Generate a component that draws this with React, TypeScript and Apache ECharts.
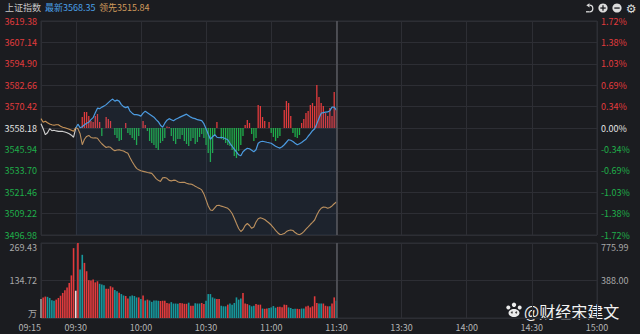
import React, { useEffect, useRef } from "react";
import * as echarts from "echarts";

// ---------- data ----------
const INDEX_NAME = "上证指数";
const PREV_CLOSE = 3558.18;
const LATEST = 3568.35;
const LEADING = 3515.84;

const priceTickLabels = ["3496.98", "3509.22", "3521.46", "3533.70", "3545.94", "3558.18", "3570.42", "3582.66", "3594.90", "3607.14", "3619.38"];
const pctTickLabels = ["-1.72%", "-1.38%", "-1.03%", "-0.69%", "-0.34%", "0.00%", "0.34%", "0.69%", "1.03%", "1.38%", "1.72%"];
const volLeftLabels = ["万", "134.72", "269.43"];
const volRightLabels = ["", "388.00", "775.99"];
const timeLabels = ["09:15", "09:30", "10:00", "10:30", "11:00", "11:30", "13:30", "14:00", "14:30", "15:00"];
const timeTickSlots = [0, 16, 46, 76, 106, 136, 166, 196, 226, 256];
const SLOT_COUNT = 257;
const OPEN_SLOT = 16;

const PRICE_MIN = 3496.98;
const PRICE_MAX = 3619.38;
const PRICE_STEP = 12.24;
const VOL_LEFT_MAX = 269.43;
const VOL_RIGHT_MAX = 775.99;
const FORCE_RANGE = 107;

// call-auction price (09:15 - 09:30)
const auctionPrice = [3560.65, 3557.78, 3554.34, 3555.48, 3557.78, 3556.63, 3556.92, 3556.52, 3556.23, 3556.34, 3556.23, 3555.88, 3555.48, 3554.91, 3554.05, 3552.90, 3558.18];

// index price from 09:30
const price = [
  3558.18, 3560.36, 3558.35, 3558.93, 3560.07, 3560.93, 3561.51, 3562.94, 3564.09, 3566.96,
  3569.54, 3569.25, 3570.12, 3570.69, 3571.55, 3572.70, 3573.84, 3574.71, 3573.56, 3574.13,
  3573.56, 3571.55, 3570.40, 3569.83, 3570.40, 3567.82, 3566.67, 3565.81, 3565.81, 3565.52,
  3564.95, 3566.67, 3567.82, 3566.96, 3566.10, 3565.24, 3564.38, 3562.94, 3561.79, 3559.79,
  3558.64, 3560.93, 3562.66, 3563.52, 3562.94, 3562.37, 3563.23, 3563.80, 3564.38, 3564.95,
  3565.52, 3566.10, 3565.24, 3564.38, 3563.80, 3563.52, 3562.94, 3562.66, 3562.37, 3560.65,
  3557.78, 3554.62, 3551.75, 3553.19, 3554.34, 3552.90, 3552.61, 3552.90, 3552.61, 3552.04,
  3551.47, 3549.46, 3547.74, 3546.02, 3544.58, 3542.86, 3542.29, 3544.58, 3545.73, 3546.59,
  3546.30, 3545.44, 3544.58, 3545.73, 3549.46, 3550.32, 3550.61, 3550.32, 3550.03, 3549.75,
  3549.46, 3548.60, 3547.74, 3547.16, 3546.70, 3547.45, 3548.60, 3550.03, 3551.47, 3551.18,
  3550.49, 3549.46, 3548.60, 3549.17, 3549.92, 3550.89, 3551.75, 3553.47, 3554.91, 3556.63,
  3557.78, 3560.65, 3563.80, 3566.67, 3566.96, 3567.25, 3567.36, 3568.11, 3570.12, 3570.12,
  3568.35,
];

// leading index from 09:15
const leading = [
  3563.52, 3561.51, 3562.08, 3561.22, 3560.48, 3560.07, 3559.79, 3560.07, 3560.07, 3559.21,
  3558.64, 3558.35, 3557.95, 3557.49, 3556.92, 3556.34, 3558.52, 3557.78, 3554.91, 3548.60,
  3551.75, 3553.36, 3553.93, 3552.79, 3552.44, 3552.61, 3552.33, 3550.61, 3549.17, 3548.02,
  3547.05, 3547.45, 3547.16, 3545.90, 3545.15, 3545.56, 3545.73, 3545.33, 3544.98, 3544.29,
  3543.72, 3541.14, 3538.84, 3536.83, 3535.11, 3534.25, 3533.68, 3533.39, 3533.10, 3532.70,
  3532.53, 3532.24, 3530.81, 3529.20, 3528.23, 3527.65, 3529.66, 3529.83, 3529.38, 3528.23,
  3527.94, 3528.34, 3528.23, 3527.48, 3526.97, 3527.08, 3527.19, 3526.56, 3526.22, 3526.10,
  3525.65, 3524.90, 3524.21, 3523.64, 3522.78, 3520.48, 3517.04, 3513.60, 3511.30, 3511.01,
  3512.45, 3513.88, 3514.00, 3513.48, 3513.14, 3512.74, 3512.22, 3511.01, 3509.29, 3506.54,
  3503.55, 3500.69, 3498.96, 3500.11, 3502.41, 3503.55, 3502.41, 3500.80, 3501.55, 3504.41,
  3506.25, 3506.88, 3506.42, 3505.85, 3504.82, 3503.84, 3502.69, 3501.26, 3499.65, 3498.28,
  3497.24, 3497.36, 3497.82, 3498.96, 3499.54, 3499.83, 3499.54, 3498.39, 3497.53, 3497.13,
  3497.82, 3498.96, 3500.40, 3501.66, 3502.98, 3504.24, 3505.56, 3508.43, 3510.73, 3512.28,
  3513.02, 3512.85, 3512.28, 3512.74, 3513.60, 3514.86, 3515.84,
];

// buy/sell force bars from 09:30 (positive = red, negative = green)
const force = [
  0, 0, 0, 11, 16, 16, 12, 7, 6, 12,
  14, 6, -8, 0, 11, 9, 7, 0, -7, -10,
  -13, -12, 0, 5, -5, -7, -10, -12, -17, -8,
  0, 7, 3, -3, -13, -15, -17, -20, -22, -15,
  -13, -10, 1.5, 1, -8, -13, -16, -11, -11, -7,
  -13, -16, -18, -13, -10, -16, -14, -9, -6, -10,
  -17, -25, -34, -25, -8, 6, 0, -11, -12, -15,
  -17, -18, -22, -28, -30, -23, -17, -8, 3, 8,
  5, -6, -13, -10, 23, 22, 11, 7, 0, 6,
  -5, -9, -13, -10, -8, 0, 18, 27, 25, 12,
  -5, -9, -10, -7, 5, 9, 15, 17, 23, 25,
  22, 43, 31, 25, 22, 15, 12, 20, 12, 36,
  18,
];

// volume (万) from 09:15 and direction: u up, d down, n flat, h highlighted
const volume = [
  68, 74, 77, 76, 72, 64, 62, 66, 72, 80,
  90, 100, 110, 126, 153, 251, 98, 269, 174, 227,
  198, 168, 136, 135, 138, 128, 132, 123, 120, 118,
  105, 105, 114, 110, 101, 96, 91, 86, 81, 79,
  70, 78, 81, 79, 74, 74, 68, 81, 63, 66,
  63, 58, 63, 63, 62, 61, 62, 62, 54, 52,
  57, 52, 52, 51, 54, 53, 51, 51, 55, 44,
  44, 53, 52, 52, 54, 50, 62, 86, 86, 74,
  70, 68, 68, 44, 42, 42, 48, 52, 48, 54,
  74, 66, 70, 90, 52, 50, 46, 42, 44, 50,
  48, 48, 34, 33, 34, 36, 38, 43, 37, 40,
  40, 39, 48, 47, 38, 36, 32, 33, 33, 32,
  34, 34, 41, 44, 38, 42, 78, 54, 52, 52,
  52, 44, 42, 42, 52, 74, 62,
];
const volumeDir = [
  "n", "u", "u", "d", "d", "d", "d", "u", "u", "u",
  "u", "u", "u", "u", "u", "u", "h", "u", "d", "d",
  "u", "u", "u", "u", "u", "u", "u", "d", "d", "d",
  "u", "u", "u", "u", "d", "d", "u", "d", "d", "u",
  "u", "d", "d", "d", "d", "u", "d", "u", "d", "u",
  "d", "d", "d", "d", "d", "u", "u", "u", "u", "u",
  "d", "d", "d", "d", "u", "u", "u", "u", "d", "u",
  "u", "d", "d", "d", "u", "u", "d", "d", "d", "d",
  "d", "u", "u", "d", "d", "d", "u", "d", "d", "d",
  "d", "d", "d", "u", "u", "u", "d", "d", "d", "u",
  "u", "u", "d", "u", "u", "d", "d", "d", "d", "u",
  "u", "u", "u", "u", "d", "d", "d", "d", "u", "u",
  "d", "d", "u", "u", "u", "u", "u", "u", "d", "d",
  "u", "u", "u", "d", "u", "u", "d",
];

// ---------- styles ----------
const BG = "#1b1c20";
const GRID = "#2d2e34";
const RED = "#e23b3d";
const GREEN = "#1fae4a";
const TEAL = "#17979c";
const BLUE = "#4c9be0";
const ORANGE = "#c99457";
const FONT = '"Noto Sans CJK SC", "Noto Sans", sans-serif';

const slots = Array.from({ length: SLOT_COUNT }, (_, i) => String(i));
const isTimeTick = (idx: number) => timeTickSlots.indexOf(idx) >= 0;
const pad = (n: number) => Array.from({ length: n }, () => null as number | null);

const volColor: Record<string, string> = { u: RED, d: TEAL, n: "#9a9a9a", h: "#f2d9d9" };

export default function App() {
  const ref = useRef<HTMLDivElement>(null);

  useEffect(() => {
    if (!ref.current) return;
    const chart = echarts.init(ref.current, null, { renderer: "svg" });

    const priceColor = (_v: any, i: number) => (i < 5 ? GREEN : i === 5 ? "#e4e4e4" : RED);

    const option: any = {
      animation: false,
      backgroundColor: BG,
      textStyle: { fontFamily: FONT },
      grid: [
        { left: 41, right: 43, top: 21, height: 214, show: true, borderColor: GRID, borderWidth: 1 },
        { left: 41, right: 43, top: 243, height: 75, show: true, borderColor: GRID, borderWidth: 1 },
      ],
      xAxis: [
        {
          type: "category",
          gridIndex: 0,
          data: slots,
          boundaryGap: false,
          axisLine: { show: false },
          axisTick: { show: false },
          axisLabel: { show: false },
          splitLine: { show: true, interval: (i: number) => isTimeTick(i), lineStyle: { color: GRID, width: 1 } },
        },
        {
          type: "category",
          gridIndex: 1,
          data: slots,
          boundaryGap: false,
          axisLine: { show: false },
          axisTick: { show: false },
          axisLabel: {
            show: true,
            interval: (i: number) => isTimeTick(i),
            formatter: (v: string) => timeLabels[timeTickSlots.indexOf(Number(v))] ?? "",
            color: "#b4b4b4",
            fontSize: 9,
            fontFamily: FONT,
            margin: 5,
            alignMinLabel: "right",
            showMinLabel: true,
            showMaxLabel: true,
          },
          splitLine: { show: true, interval: (i: number) => isTimeTick(i), lineStyle: { color: GRID, width: 1 } },
        },
      ],
      yAxis: [
        {
          type: "value",
          gridIndex: 0,
          position: "left",
          min: PRICE_MIN,
          max: PRICE_MAX,
          interval: PRICE_STEP,
          axisLine: { show: false },
          axisTick: { show: false },
          axisLabel: {
            formatter: (_v: number, i: number) => priceTickLabels[i] ?? "",
            color: priceColor,
            fontSize: 9,
            fontFamily: FONT,
            margin: 4,
          },
          splitLine: { show: true, lineStyle: { color: GRID, width: 1 } },
        },
        {
          type: "value",
          gridIndex: 0,
          position: "right",
          min: PRICE_MIN,
          max: PRICE_MAX,
          interval: PRICE_STEP,
          axisLine: { show: false },
          axisTick: { show: false },
          axisLabel: {
            formatter: (_v: number, i: number) => pctTickLabels[i] ?? "",
            color: priceColor,
            fontSize: 9,
            fontFamily: FONT,
            margin: 4,
          },
          splitLine: { show: false },
        },
        { type: "value", gridIndex: 0, min: -FORCE_RANGE, max: FORCE_RANGE, show: false, splitLine: { show: false } },
        {
          type: "value",
          gridIndex: 1,
          position: "left",
          min: 0,
          max: VOL_LEFT_MAX,
          interval: VOL_LEFT_MAX / 2,
          axisLine: { show: false },
          axisTick: { show: false },
          axisLabel: {
            formatter: (_v: number, i: number) => volLeftLabels[i] ?? "",
            color: "#a8a8a8",
            fontSize: 9,
            fontFamily: FONT,
            margin: 4,
            verticalAlignMaxLabel: "top",
            verticalAlignMinLabel: "bottom",
          },
          splitLine: { show: true, lineStyle: { color: GRID, width: 1 } },
        },
        {
          type: "value",
          gridIndex: 1,
          position: "right",
          min: 0,
          max: VOL_RIGHT_MAX,
          interval: VOL_RIGHT_MAX / 2,
          axisLine: { show: false },
          axisTick: { show: false },
          axisLabel: {
            formatter: (_v: number, i: number) => volRightLabels[i] ?? "",
            color: "#a8a8a8",
            fontSize: 9,
            fontFamily: FONT,
            margin: 4,
            verticalAlignMaxLabel: "top",
          },
          splitLine: { show: false },
        },
      ],
      series: [
        {
          type: "bar",
          xAxisIndex: 0,
          yAxisIndex: 2,
          barWidth: 1.3,
          data: [...pad(OPEN_SLOT), ...force],
          itemStyle: { color: (p: any) => (p.value >= 0 ? RED : GREEN) },
          silent: true,
          z: 1,
        },
        {
          type: "line",
          xAxisIndex: 0,
          yAxisIndex: 0,
          data: auctionPrice,
          showSymbol: false,
          lineStyle: { color: "#cfcfcf", width: 1.1 },
          z: 3,
        },
        {
          type: "line",
          xAxisIndex: 0,
          yAxisIndex: 0,
          data: leading,
          showSymbol: false,
          lineStyle: { color: ORANGE, width: 1.1 },
          z: 3,
        },
        {
          type: "line",
          xAxisIndex: 0,
          yAxisIndex: 0,
          data: [...pad(OPEN_SLOT), ...price],
          showSymbol: false,
          lineStyle: { color: BLUE, width: 1.2 },
          areaStyle: { origin: "start", color: "rgba(60,110,180,0.13)" },
          z: 4,
          markLine: {
            silent: true,
            symbol: "none",
            label: { show: false },
            lineStyle: { color: "#56575d", width: 1.6, type: "solid" },
            data: [{ xAxis: slots[OPEN_SLOT + price.length - 1] }],
          },
        },
        {
          type: "bar",
          xAxisIndex: 1,
          yAxisIndex: 3,
          barWidth: 1.6,
          data: volume.map((v, i) => ({ value: v, itemStyle: { color: volColor[volumeDir[i]] } })),
          silent: true,
          markLine: {
            silent: true,
            symbol: "none",
            label: { show: false },
            lineStyle: { color: "#56575d", width: 1.6, type: "solid" },
            data: [{ xAxis: slots[volume.length - 1] }],
          },
        },
      ],
      graphic: [
        { type: "text", x: 5, y: 7, style: { text: INDEX_NAME, fill: "#c6c6c6", fontSize: 9, fontFamily: FONT, verticalAlign: "middle" } },
        { type: "text", x: 45, y: 7, style: { text: "最新" + LATEST.toFixed(2), fill: "#4aa0e8", fontSize: 9, fontFamily: FONT, verticalAlign: "middle" } },
        { type: "text", x: 99, y: 7, style: { text: "领先" + LEADING.toFixed(2), fill: "#cf9a5c", fontSize: 9, fontFamily: FONT, verticalAlign: "middle" } },
        // toolbar icons
        { type: "arc", shape: { cx: 589.5, cy: 8.5, r: 3.3, startAngle: -Math.PI / 2, endAngle: Math.PI / 2, clockwise: true }, style: { stroke: "#dcdcdc", lineWidth: 1.3, fill: "none" } },
        { type: "line", shape: { x1: 589.5, y1: 11.8, x2: 586, y2: 11.8 }, style: { stroke: "#dcdcdc", lineWidth: 1.3 } },
        { type: "polygon", shape: { points: [[589.5, 3.2], [589.5, 7.4], [586.3, 5.2]] }, style: { fill: "#dcdcdc" } },
        { type: "circle", shape: { cx: 603, cy: 8, r: 4.6 }, style: { fill: "#dcdcdc" } },
        { type: "rect", shape: { x: 600.3, y: 7.4, width: 5.4, height: 1.3 }, style: { fill: BG } },
        { type: "rect", shape: { x: 602.35, y: 5.3, width: 1.3, height: 5.4 }, style: { fill: BG } },
        { type: "circle", shape: { cx: 617, cy: 8, r: 4.6 }, style: { fill: "#dcdcdc" } },
        { type: "rect", shape: { x: 614.3, y: 7.4, width: 5.4, height: 1.3 }, style: { fill: BG } },
        { type: "text", x: 631, y: 8.5, style: { text: "⚙", fill: "#dcdcdc", fontSize: 12, fontFamily: '"DejaVu Sans"', align: "center", verticalAlign: "middle" } },
        // watermark
        { type: "ellipse", shape: { cx: 514, cy: 313, rx: 5.5, ry: 4 }, style: { fill: "#ececec" } },
        { type: "circle", shape: { cx: 508.3, cy: 307.5, r: 2 }, style: { fill: "#ececec" } },
        { type: "circle", shape: { cx: 514, cy: 304.8, r: 2.2 }, style: { fill: "#ececec" } },
        { type: "circle", shape: { cx: 519.7, cy: 307.5, r: 2 }, style: { fill: "#ececec" } },
        { type: "circle", shape: { cx: 511.8, cy: 312.5, r: 1 }, style: { fill: "#444" } },
        { type: "circle", shape: { cx: 516.2, cy: 312.5, r: 1 }, style: { fill: "#444" } },
        { type: "text", x: 524, y: 310.5, style: { text: "@财经宋建文", fill: "#f2f2f2", fontSize: 16, lineHeight: 16, fontFamily: FONT, verticalAlign: "middle" } },
      ],
    };

    chart.setOption(option);
    return () => chart.dispose();
  }, []);

  return (
    <div style={{ position: "fixed", left: 0, top: 0, width: 640, height: 334, background: BG }}>
      <div ref={ref} style={{ width: 640, height: 334 }} />
    </div>
  );
}
